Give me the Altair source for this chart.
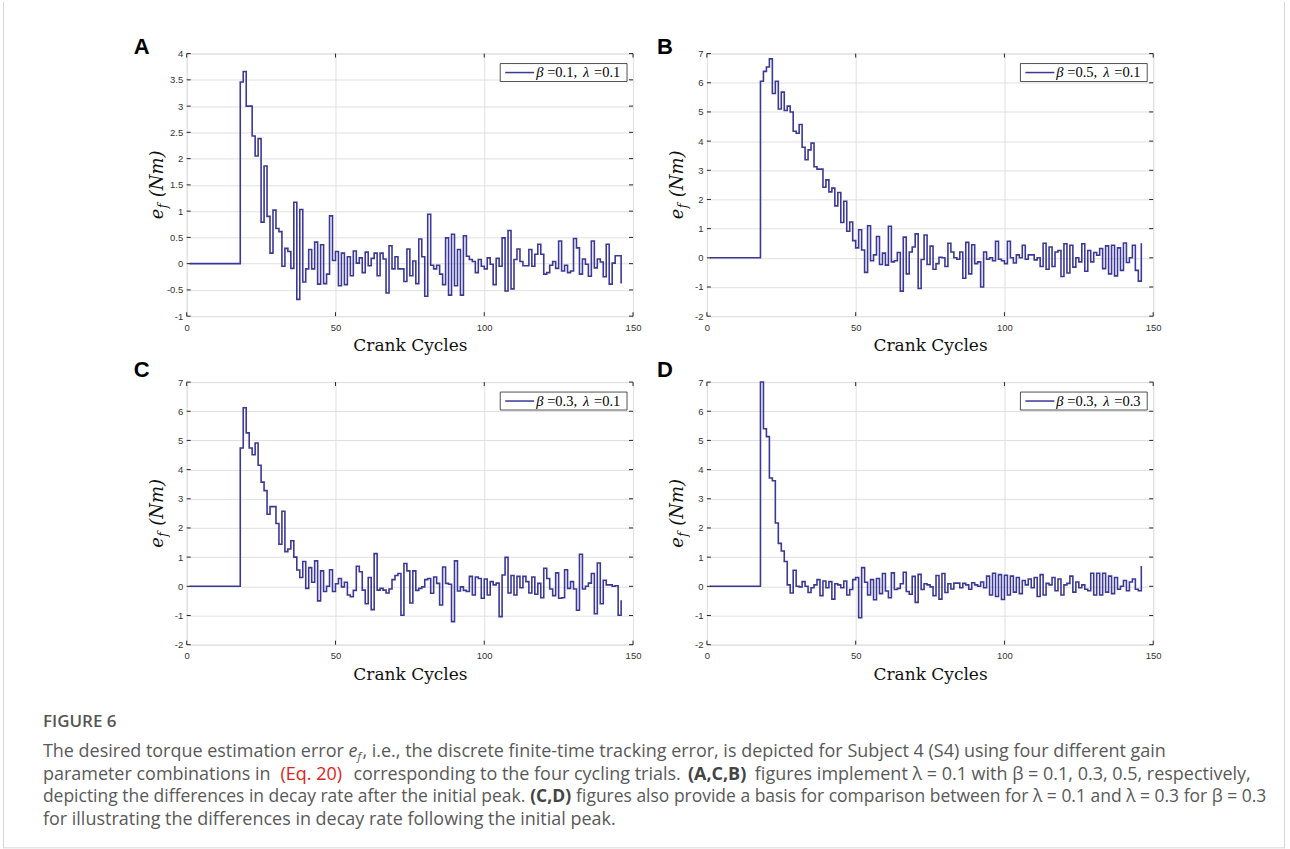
import altair as alt
import pandas as pd

# ---------------- data ----------------
cycles = list(range(1, 147))

ef_A = [0.0, 0.0, 0.0, 0.0, 0.0, 0.0, 0.0, 0.0, 0.0, 0.0, 0.0, 0.0, 0.0, 0.0, 0.0, 0.0, 0.0,
        3.46, 3.66, 3.0, 3.0, 2.43, 2.05, 2.38, 0.79, 1.86, 0.9,
        0.2, 1.02, 0.67, 0.61, -0.05, 0.29, 0.23, -0.09, 1.17, -0.68,
        1.03, -0.35, -0.1, 0.27, -0.1, 0.41, -0.39, 0.36, -0.38, -0.2,
        0.91, 0.06, 0.23, -0.42, 0.2, -0.4, 0.13, -0.23, 0.24, 0.01,
        0.11, -0.17, 0.22, -0.04, 0.1, 0.2, -0.23, 0.2, 0.09, -0.56,
        0.34, -0.1, 0.13, -0.1, -0.1, -0.34, 0.28, -0.23, 0.05, -0.38,
        0.47, 0.13, -0.62, 0.94, -0.03, -0.1, -0.03, -0.2, -0.4, 0.49,
        -0.6, 0.56, -0.42, 0.27, -0.6, 0.53, 0.14, 0.08, 0.04, -0.17,
        0.08, -0.05, -0.1, 0.11, -0.01, -0.4, 0.1, -0.05, 0.49, -0.52,
        0.63, -0.48, 0.08, 0.28, 0.04, -0.04, -0.04, 0.27, -0.05, 0.18,
        0.37, 0.18, -0.2, -0.17, -0.03, 0.04, -0.09, 0.43, -0.14, -0.03,
        -0.17, -0.14, 0.48, 0.3, -0.2, 0.09, -0.01, -0.24, 0.43, -0.08,
        0.09, 0.03, -0.25, 0.37, -0.39, 0.01, 0.15, 0.15, -0.38]

ef_B = [0.0, 0.0, 0.0, 0.0, 0.0, 0.0, 0.0, 0.0, 0.0, 0.0, 0.0, 0.0, 0.0, 0.0, 0.0, 0.0, 0.0,
        6.05, 6.39, 6.54, 6.82, 5.63, 6.05, 5.1, 5.68, 5.05, 5.2,
        5.0, 4.34, 4.27, 4.57, 3.79, 3.36, 3.7, 3.93, 3.12, 3.04,
        3.04, 2.42, 2.67, 2.26, 2.39, 1.78, 2.24, 1.21, 1.94, 0.91,
        1.23, 0.59, 0.34, 0.96, 0.27, -0.5, 1.1, -0.1, 0.1, 0.73,
        -0.23, 0.16, -0.25, 1.08, -0.14, -0.1, 0.18, -1.14, 0.71, -0.55,
        0.2, 0.37, 0.82, -1.05, -0.06, 0.78, -0.23, 0.4, -0.39, -0.2,
        0.02, 0.0, -0.3, 0.5, 0.2, 0.0, -0.05, 0.2, -0.7, 0.53,
        -0.55, 0.45, -0.2, -0.14, -1.0, 0.2, -0.05, 0.0, -0.1, 0.57,
        -0.05, -0.1, -0.2, 0.57, 0.0, -0.18, 0.1, 0.0, 0.43, -0.05,
        0.1, 0.1, -0.07, 0.0, -0.3, 0.5, -0.39, 0.37, -0.3, 0.2,
        0.25, -0.64, 0.48, -0.52, 0.43, -0.32, 0.0, -0.14, 0.48, -0.46,
        0.25, -0.14, 0.18, 0.09, 0.32, -0.37, 0.41, -0.55, 0.43, -0.62,
        0.34, -0.43, 0.51, -0.16, 0.0, 0.43, -0.43, -0.8, 0.5]

ef_C = [0.0, 0.0, 0.0, 0.0, 0.0, 0.0, 0.0, 0.0, 0.0, 0.0, 0.0, 0.0, 0.0, 0.0, 0.0, 0.0, 0.0,
        4.74, 6.12, 5.26, 4.74, 4.51, 4.91, 4.15, 3.57, 3.28, 2.47,
        2.73, 2.73, 2.15, 1.44, 2.57, 1.19, 1.28, 1.56, 1.0, 0.56,
        0.3, 0.85, -0.07, 0.64, 0.14, 0.87, -0.5, 0.53, -0.18, 0.0,
        0.57, -0.18, 0.09, 0.27, -0.02, 0.14, -0.3, -0.36, -0.14, 0.69,
        0.5, -0.13, -0.6, 0.3, -0.8, 1.12, -0.13, -0.07, -0.13, -0.23,
        -0.09, 0.23, 0.37, 0.44, -0.99, 0.78, 0.53, -0.57, 0.53, -0.14,
        -0.07, -0.02, 0.23, 0.27, -0.24, 0.32, 0.1, -0.64, 0.66, 0.1,
        0.07, -1.21, 0.87, -0.16, -0.02, -0.14, -0.18, 0.34, -0.3, 0.32,
        0.27, -0.41, 0.25, -0.3, 0.16, 0.05, 0.11, -1.04, 0.39, 0.99,
        -0.23, 0.37, -0.3, 0.34, -0.05, 0.34, 0.16, -0.23, 0.32, -0.27,
        0.1, -0.39, 0.62, 0.27, -0.09, -0.32, 0.46, -0.41, -0.39, 0.57,
        -0.07, 0.16, -0.09, -0.82, 1.1, -0.09, 0.0, 0.11, 0.44, -0.94,
        0.8, -0.6, 0.21, 0.05, 0.05, 0.0, 0.02, -0.99, -0.48]

ef_D = [0.0, 0.0, 0.0, 0.0, 0.0, 0.0, 0.0, 0.0, 0.0, 0.0, 0.0, 0.0, 0.0, 0.0, 0.0, 0.0, 0.0,
        7.0, 5.4, 5.13, 3.71, 3.62, 2.17, 1.47, 1.21, 0.85, 0.05,
        -0.23, 0.55, 0.0, -0.02, 0.16, 0.0, -0.21, -0.05, 0.05, 0.23,
        -0.32, 0.18, -0.05, 0.16, -0.44, 0.09, 0.05, -0.05, 0.18, -0.3,
        -0.11, 0.23, 0.3, -1.08, 0.64, 0.14, -0.3, 0.23, -0.46, 0.27,
        -0.25, 0.44, -0.16, -0.39, 0.46, -0.11, -0.07, 0.09, 0.48, -0.18,
        -0.27, 0.34, -0.55, 0.41, -0.11, 0.09, 0.05, -0.02, -0.32, 0.37,
        -0.44, 0.44, -0.21, 0.09, -0.09, 0.11, 0.11, -0.05, 0.1, 0.05,
        -0.1, 0.12, 0.05, 0.0, 0.15, -0.05, 0.35, -0.3, 0.45, -0.35,
        0.4, -0.45, 0.38, -0.3, 0.35, -0.2, 0.3, -0.25, 0.2, 0.05,
        0.25, -0.05, 0.3, -0.35, 0.4, -0.3, 0.1, 0.05, 0.3, -0.15,
        0.25, -0.3, 0.05, 0.1, 0.35, -0.2, 0.15, -0.05, 0.05, -0.1,
        -0.15, 0.45, -0.3, 0.45, -0.3, 0.45, -0.2, 0.35, -0.25, 0.3,
        -0.1, 0.0, 0.2, -0.15, 0.15, 0.25, -0.1, -0.15, 0.7]

x_ticks = [0, 50, 100, 150]
y_ticks_A = [-1, -0.5, 0, 0.5, 1, 1.5, 2, 2.5, 3, 3.5, 4]
y_ticks_7 = [-2, -1, 0, 1, 2, 3, 4, 5, 6, 7]

legend_A = ["0.1", "0.1"]
legend_B = ["0.5", "0.1"]
legend_C = ["0.3", "0.1"]
legend_D = ["0.3", "0.3"]

# ---------------- style ----------------
LINE = "#3b3897"
AXC = "#262626"
GRID = "#e0e0e0"
W, H = 447, 263
TICK = 4
SERIF = "DejaVu Serif"
LSERIF = "Liberation Serif"

one = pd.DataFrame({"k": [0]})


def const(mark):
    return alt.Chart(one).mark_text(**mark)


def panel(vals, ydom, yticks, letter, legend, lab_dx, lab_dy, extra=None):
    df = pd.DataFrame({"cycle": cycles, "ef": vals})
    xs = alt.Scale(domain=[0, 150], nice=False, zero=False)
    ys = alt.Scale(domain=ydom, nice=False, zero=False)
    line = alt.Chart(df).mark_line(
        interpolate="step-after", color=LINE, strokeWidth=1.6
    ).encode(
        x=alt.X("cycle:Q", scale=xs, axis=alt.Axis(
            values=x_ticks, grid=True, gridColor=GRID, domain=False, ticks=False,
            tickSize=0, labelFont="Liberation Sans", labelFontSize=9.5,
            labelColor="#333333", labelPadding=6, labelFlush=False,
            labelOverlap=False, title="Crank Cycles", titleFont=SERIF,
            titleFontSize=17, titleFontWeight="normal", titleColor="#111111",
            titlePadding=6)),
        y=alt.Y("ef:Q", scale=ys, axis=alt.Axis(
            values=yticks, grid=True, gridColor=GRID, domain=False, ticks=False,
            tickSize=0, labelFont="Liberation Sans", labelFontSize=9.5,
            labelColor="#333333", labelPadding=4, labelFlush=False,
            labelOverlap=False, labelExpr="'' + datum.value", title=None)),
    )
    ydf = pd.DataFrame({"t": yticks})
    xdf = pd.DataFrame({"t": x_ticks})
    rule = dict(color=AXC, strokeWidth=1)
    tl = alt.Chart(ydf).mark_rule(**rule).encode(
        y=alt.Y("t:Q", scale=ys, axis=None), x=alt.value(0), x2=alt.value(TICK))
    tr = alt.Chart(ydf).mark_rule(**rule).encode(
        y=alt.Y("t:Q", scale=ys, axis=None), x=alt.value(W - TICK), x2=alt.value(W))
    tb = alt.Chart(xdf).mark_rule(**rule).encode(
        x=alt.X("t:Q", scale=xs, axis=None), y=alt.value(H - TICK), y2=alt.value(H))
    tt = alt.Chart(xdf).mark_rule(**rule).encode(
        x=alt.X("t:Q", scale=xs, axis=None), y=alt.value(0), y2=alt.value(TICK))

    leg_box = alt.Chart(one).mark_rect(fill="white", stroke=AXC, strokeWidth=0.8).encode(
        x=alt.value(314), x2=alt.value(441), y=alt.value(10), y2=alt.value(28))
    leg_line = alt.Chart(one).mark_rule(color=LINE, strokeWidth=1.5).encode(
        x=alt.value(319), x2=alt.value(348), y=alt.value(19))
    lt = dict(font=LSERIF, fontSize=14.5, align="left", baseline="middle", color="#000000")
    leg_parts = [
        const(dict(lt, text="β", fontStyle="italic")).encode(x=alt.value(350), y=alt.value(19.5)),
        const(dict(lt, text="=" + legend[0] + ",")).encode(x=alt.value(361), y=alt.value(19.5)),
        const(dict(lt, text="λ", fontStyle="italic")).encode(x=alt.value(397), y=alt.value(19.5)),
        const(dict(lt, text="=" + legend[1])).encode(x=alt.value(408), y=alt.value(19.5)),
    ]

    lab = const(dict(text=letter, font="Liberation Sans", fontSize=22,
                     fontWeight="bold", align="center", baseline="middle",
                     color="#000000")).encode(x=alt.value(lab_dx), y=alt.value(lab_dy))

    # y title  e_f (Nm), rotated
    t_e = const(dict(text="e", font=SERIF, fontStyle="italic", fontSize=18, angle=270,
                     align="left", baseline="alphabetic", color="#111111")).encode(
        x=alt.value(-24), y=alt.value(166))
    t_f = const(dict(text="f", font=SERIF, fontStyle="italic", fontSize=12.5, angle=270,
                     align="left", baseline="alphabetic", color="#111111")).encode(
        x=alt.value(-20), y=alt.value(155))
    t_nm = const(dict(text="(Nm)", font=SERIF, fontStyle="italic", fontSize=18, angle=270,
                      align="left", baseline="alphabetic", color="#111111")).encode(
        x=alt.value(-24), y=alt.value(144))

    layers = [line, tl, tr, tb, tt, leg_box, leg_line] + leg_parts + [lab, t_e, t_f, t_nm]
    if extra:
        layers += extra
    return alt.layer(*layers).resolve_axis(x="independent", y="independent").properties(
        width=W, height=H)


# ---------------- caption + frame (positions relative to panel A) ----------------
OX, OY = 186, 52
CAP = "Open Sans"
CAPC = "#595959"


def ctext(txt, x, y, size=18, color=CAPC, weight="normal", style="normal"):
    return const(dict(text=txt, font=CAP, fontSize=size, align="left",
                      baseline="middle", color=color, fontWeight=weight,
                      fontStyle=style)).encode(x=alt.value(x - OX), y=alt.value(y - OY))


caption = [
    ctext("FIGURE 6", 42, 721, size=17, color="#555555", weight=600),
    ctext("The desired torque estimation error", 42, 752),
    ctext("e", 348, 752, style="italic"),
    ctext("f", 357, 757, size=11.5, style="italic"),
    ctext(", i.e., the discrete finite-time tracking error, is depicted for Subject 4 (S4) using four different gain", 362, 752),
    ctext("parameter combinations in", 42, 775),
    ctext("(Eq. 20)", 280, 775, color="#e2231a"),
    ctext("corresponding to the four cycling trials.", 353, 775),
    ctext("(A,C,B)", 688, 775, color="#444444", weight="bold"),
    ctext("figures implement λ = 0.1 with β = 0.1, 0.3, 0.5, respectively,", 755, 775),
    ctext("depicting the differences in decay rate after the initial peak.", 42, 797, size=17.5),
    ctext("(C,D)", 530, 797, size=17.5, color="#444444", weight="bold"),
    ctext("figures also provide a basis for comparison between for λ = 0.1 and λ = 0.3 for β = 0.3", 576, 797, size=17.5),
    ctext("for illustrating the differences in decay rate following the initial peak.", 42, 820),
]

FR = dict(color="#d6d6d6", strokeWidth=1)
frame = [
    alt.Chart(one).mark_rule(**FR).encode(
        x=alt.value(2.5 - OX), y=alt.value(-OY), y2=alt.value(848 - OY)),
    alt.Chart(one).mark_rule(**FR).encode(
        x=alt.value(1285.5 - OX), y=alt.value(-OY), y2=alt.value(848 - OY)),
    alt.Chart(one).mark_rule(**FR).encode(
        x=alt.value(2.5 - OX), x2=alt.value(1285.5 - OX), y=alt.value(847.5 - OY)),
]
bbox = alt.Chart(one).mark_rect(fill="transparent", strokeOpacity=0).encode(
    x=alt.value(-OX), x2=alt.value(1290 - OX), y=alt.value(-OY), y2=alt.value(849 - OY))

pA = panel(ef_A, [-1, 4], y_ticks_A, "A", legend_A, -45, -7, extra=caption + frame + [bbox])
pB = panel(ef_B, [-2, 7], y_ticks_7, "B", legend_B, -42, -7)
pC = panel(ef_C, [-2, 7], y_ticks_7, "C", legend_C, -45, -12)
pD = panel(ef_D, [-2, 7], y_ticks_7, "D", legend_D, -42, -12)

chart = alt.concat(
    pA, pB, pC, pD, columns=2, spacing={"row": 66, "column": 74}, bounds="flush", padding=0
).configure_view(stroke=AXC, strokeWidth=1).configure(background="white")

chart.save("out.html", embed_options={"renderer": "svg", "actions": False})
